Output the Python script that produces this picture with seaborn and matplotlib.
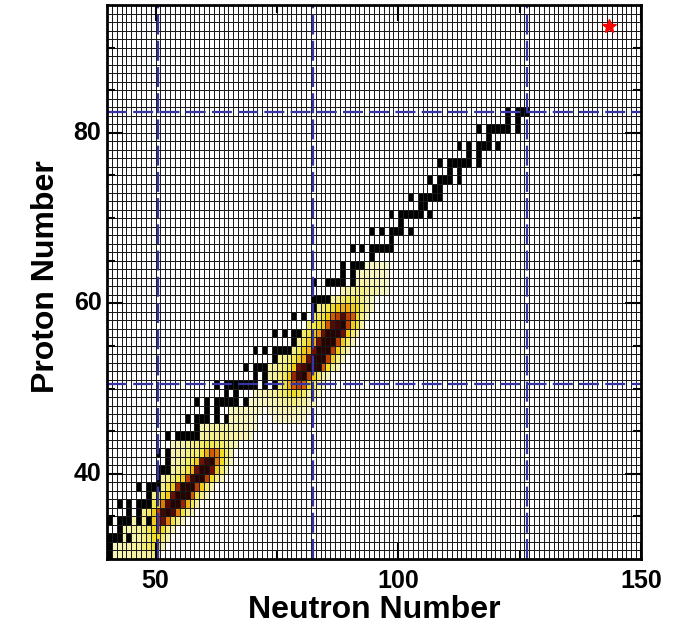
import numpy as np
import pandas as pd
import matplotlib
matplotlib.use("Agg")
import matplotlib.pyplot as plt
import seaborn as sns
from matplotlib.colors import LinearSegmentedColormap, ListedColormap

# ---------------- data ----------------
N_MIN, N_MAX = 40, 150      # neutron-number cells 40..149
Z_MIN, Z_MAX = 30, 95       # proton-number cells 30..94

X_TICKS = [50, 100, 150]
X_MINOR = [75, 125]
Y_TICKS = [40, 60, 80]
Y_MINOR = [35, 45, 50, 55, 65, 70, 75, 85, 90]

MAGIC_N = [50, 82, 126]
MAGIC_Z = [50, 82]

STAR_N, STAR_Z = 143, 92

# stable nuclei: proton number and list of neutron numbers
STABLE_Z = [30, 31, 32, 33, 34, 35, 36, 37, 38, 39, 40, 41, 42, 44, 45, 46, 47, 48,
            49, 50, 51, 52, 53, 54, 55, 56, 57, 58, 59, 60, 62, 63, 64, 65, 66, 67,
            68, 69, 70, 71, 72, 73, 74, 75, 76, 77, 78, 79, 80, 81, 82]
STABLE_N = [[40], [40], [40, 41, 42, 44], [42], [40, 42, 43, 44, 46, 48], [44, 46],
            [42, 44, 46, 47, 48, 50], [48, 50], [46, 48, 49, 50], [50],
            [50, 51, 52, 54, 56], [52], [50, 52, 53, 54, 55, 56, 58],
            [52, 54, 55, 56, 57, 58, 60], [58], [56, 58, 59, 60, 62, 64], [60, 62],
            [58, 60, 62, 63, 64, 65, 66, 68], [64, 66],
            [62, 64, 65, 66, 67, 68, 69, 70, 72, 74], [70, 72],
            [68, 70, 71, 72, 73, 74, 76, 78], [74],
            [70, 72, 74, 75, 76, 77, 78, 80, 82], [78], [74, 76, 78, 79, 80, 81, 82],
            [81, 82], [78, 80, 82, 84], [82], [82, 83, 84, 85, 86, 88, 90],
            [82, 85, 86, 87, 88, 90, 92], [88, 90], [88, 90, 91, 92, 93, 94, 96], [94],
            [90, 92, 94, 95, 96, 97, 98], [98], [94, 96, 98, 99, 100, 102], [100],
            [98, 100, 101, 102, 103, 104, 106], [104, 105],
            [102, 104, 105, 106, 107, 108], [107, 108], [106, 108, 109, 110, 112],
            [110, 112], [108, 110, 111, 112, 113, 114, 116], [114, 116],
            [112, 114, 116, 117, 118, 120], [118], [116, 118, 119, 120, 121, 122, 124],
            [122, 124], [122, 124, 125, 126]]

# abundance map, first peak: row Z, first N, relative intensity per cell
PEAK1_Z = [30, 31, 32, 33, 34, 35, 36, 37, 38, 39, 40, 41, 42, 43, 44, 45, 46, 47, 48]
PEAK1_N0 = [41, 41, 43, 43, 45, 47, 49, 49, 51, 51, 53, 53, 53, 53, 59, 59, 65, 65, 69]
PEAK1_VALS = [
    [0.10, 0.12, 0.12, 0.14, 0.15, 0.15, 0.16, 0.18, 0.22, 0.15],
    [0.10, 0.12, 0.14, 0.15, 0.16, 0.18, 0.22, 0.28, 0.35, 0.30, 0.12],
    [0.12, 0.00, 0.14, 0.16, 0.20, 0.25, 0.38, 0.42, 0.25, 0.12],
    [0.12, 0.14, 0.16, 0.18, 0.22, 0.30, 0.42, 0.55, 0.42, 0.20, 0.10],
    [0.14, 0.00, 0.20, 0.00, 0.45, 0.72, 0.80, 0.60, 0.35, 0.18, 0.10],
    [0.20, 0.28, 0.45, 0.70, 0.90, 0.95, 0.85, 0.60, 0.35, 0.18, 0.10],
    [0.30, 0.40, 0.60, 0.85, 0.95, 0.95, 0.75, 0.50, 0.30, 0.15],
    [0.20, 0.30, 0.35, 0.45, 0.80, 0.95, 0.95, 0.95, 0.65, 0.35, 0.20, 0.10],
    [0.20, 0.30, 0.45, 0.75, 0.95, 0.95, 0.95, 0.70, 0.45, 0.25, 0.12],
    [0.15, 0.20, 0.25, 0.30, 0.45, 0.70, 0.90, 0.95, 0.95, 0.70, 0.40, 0.20, 0.10],
    [0.15, 0.20, 0.25, 0.35, 0.50, 0.80, 0.95, 0.95, 0.80, 0.45, 0.25, 0.12],
    [0.12, 0.15, 0.20, 0.25, 0.30, 0.45, 0.80, 0.90, 0.95, 0.60, 0.40, 0.20, 0.10],
    [0.12, 0.15, 0.15, 0.20, 0.25, 0.25, 0.35, 0.50, 0.65, 0.60, 0.40, 0.25, 0.15],
    [0.10, 0.12, 0.15, 0.18, 0.20, 0.22, 0.25, 0.30, 0.30, 0.28, 0.25, 0.20, 0.15, 0.10],
    [0.15, 0.18, 0.20, 0.20, 0.20, 0.18, 0.16, 0.14, 0.12, 0.10, 0.08],
    [0.12, 0.14, 0.15, 0.16, 0.15, 0.14, 0.12, 0.10, 0.10, 0.08, 0.08, 0.06],
    [0.10, 0.10, 0.10, 0.08, 0.08, 0.06],
    [0.08, 0.10, 0.10, 0.08, 0.08, 0.06, 0.05],
    [0.06, 0.07, 0.06],
]

# abundance map, second peak
PEAK2_Z = [46, 47, 48, 49, 50, 51, 52, 53, 54, 55, 56, 57, 58, 59, 60, 61, 62, 63, 64]
PEAK2_N0 = [74, 73, 71, 70, 75, 73, 73, 75, 78, 79, 80, 81, 82, 83, 86, 88, 91, 91, 93]
PEAK2_VALS = [
    [0.06, 0.07, 0.08, 0.08, 0.08, 0.07, 0.06],
    [0.06, 0.08, 0.10, 0.12, 0.12, 0.12, 0.10, 0.08, 0.06],
    [0.06, 0.08, 0.10, 0.12, 0.15, 0.18, 0.20, 0.22, 0.20, 0.15, 0.10, 0.08],
    [0.08, 0.10, 0.12, 0.15, 0.18, 0.22, 0.28, 0.35, 0.40, 0.35, 0.25, 0.15, 0.10, 0.08],
    [0.20, 0.35, 0.50, 0.65, 0.70, 0.65, 0.40, 0.25, 0.15, 0.10],
    [0.15, 0.18, 0.22, 0.30, 0.45, 0.75, 0.90, 0.95, 0.70, 0.45, 0.25, 0.15, 0.08],
    [0.15, 0.18, 0.20, 0.25, 0.30, 0.45, 0.80, 0.88, 0.95, 0.95, 0.95, 0.65, 0.40, 0.20, 0.10],
    [0.18, 0.20, 0.25, 0.30, 0.45, 0.50, 0.80, 0.95, 0.95, 0.95, 0.70, 0.45, 0.20, 0.10],
    [0.20, 0.30, 0.45, 0.50, 0.80, 0.95, 0.95, 0.95, 0.70, 0.45, 0.25, 0.12],
    [0.20, 0.30, 0.45, 0.50, 0.80, 0.95, 0.95, 0.95, 0.70, 0.45, 0.25, 0.12],
    [0.25, 0.35, 0.45, 0.55, 0.80, 0.95, 0.95, 0.95, 0.80, 0.45, 0.25, 0.12],
    [0.25, 0.30, 0.40, 0.45, 0.65, 0.85, 0.90, 0.95, 0.70, 0.45, 0.35, 0.15],
    [0.25, 0.30, 0.35, 0.45, 0.65, 0.70, 0.85, 0.70, 0.65, 0.40, 0.20, 0.10],
    [0.20, 0.25, 0.30, 0.40, 0.45, 0.50, 0.50, 0.45, 0.40, 0.25, 0.15, 0.08],
    [0.15, 0.20, 0.28, 0.30, 0.30, 0.28, 0.20, 0.12, 0.08],
    [0.12, 0.15, 0.18, 0.20, 0.20, 0.18, 0.15, 0.12, 0.08, 0.06],
    [0.12, 0.14, 0.14, 0.12, 0.10, 0.08, 0.06],
    [0.08, 0.10, 0.10, 0.10, 0.08, 0.08, 0.06],
    [0.06, 0.08, 0.08, 0.07, 0.06],
]

# ---------------- build tables ----------------
n_cols = np.arange(N_MIN, N_MAX)
z_rows = np.arange(Z_MIN, Z_MAX)

heat = pd.DataFrame(0.0, index=z_rows, columns=n_cols)
for zs, n0s, vals in ((PEAK1_Z, PEAK1_N0, PEAK1_VALS), (PEAK2_Z, PEAK2_N0, PEAK2_VALS)):
    for z, n0, row in zip(zs, n0s, vals):
        for k, v in enumerate(row):
            n = n0 + k
            heat.loc[z, n] = max(heat.loc[z, n], v)

stable = pd.DataFrame(0.0, index=z_rows, columns=n_cols)
for z, ns in zip(STABLE_Z, STABLE_N):
    for n in ns:
        stable.loc[z, n] = 1.0

base = pd.DataFrame(0.0, index=z_rows, columns=n_cols)

# ---------------- plot ----------------
plt.rcParams['font.family'] = ['Liberation Sans', 'DejaVu Sans']

fig = plt.figure(figsize=(6.83, 6.27), dpi=100)
ax = fig.add_axes([107 / 683, 1 - 559 / 627, (641 - 107) / 683, (559 - 5) / 627])

grid_kw = dict(linewidths=0.5, linecolor='#1a1a1a', cbar=False, ax=ax)

sns.heatmap(base, cmap=ListedColormap(['white']), vmin=0, vmax=1, **grid_kw)
sns.heatmap(stable, mask=stable.values == 0, cmap=ListedColormap(['black']),
            vmin=0, vmax=1, **grid_kw)

heat_cmap = LinearSegmentedColormap.from_list('abund', [
    (0.00, (0.99, 0.99, 0.88)),
    (0.08, (0.97, 0.96, 0.76)),
    (0.18, (0.96, 0.94, 0.58)),
    (0.30, (0.95, 0.91, 0.30)),
    (0.42, (0.94, 0.86, 0.10)),
    (0.55, (0.93, 0.58, 0.04)),
    (0.68, (0.80, 0.30, 0.00)),
    (0.80, (0.45, 0.05, 0.00)),
    (1.00, (0.06, 0.00, 0.00)),
])
sns.heatmap(heat, mask=heat.values == 0, cmap=heat_cmap, vmin=0, vmax=1, **grid_kw)

ax.set_xlim(0, N_MAX - N_MIN)
ax.set_ylim(0, Z_MAX - Z_MIN)

# magic-number lines
for n in MAGIC_N:
    ax.axvline(n + 0.5 - N_MIN, color='#3535a5', lw=1.6, dashes=(9, 2.8), zorder=5)
for z in MAGIC_Z:
    ax.axhline(z + 0.5 - Z_MIN, color='#3535a5', lw=1.6, dashes=(9, 2.8), zorder=5)

# marker
ax.plot([STAR_N + 0.5 - N_MIN], [STAR_Z + 0.5 - Z_MIN], marker='*', color='red',
        ms=10, mec='red', ls='none', zorder=6)

# ticks
ax.set_xticks([t - N_MIN for t in X_TICKS])
ax.set_xticklabels([str(t) for t in X_TICKS], rotation=0)
ax.set_xticks([t - N_MIN for t in X_MINOR], minor=True)
ax.set_yticks([t - Z_MIN for t in Y_TICKS])
ax.set_yticklabels([str(t) for t in Y_TICKS], rotation=0)
ax.set_yticks([t - Z_MIN for t in Y_MINOR], minor=True)
ax.tick_params(which='both', direction='in', top=True, right=True, width=1.5,
               color='black')
ax.tick_params(which='major', length=11.5, labelsize=18)
ax.tick_params(which='minor', length=6)
ax.tick_params(axis='x', which='major', pad=7)
ax.tick_params(axis='y', which='major', pad=4)
for lab in ax.get_xticklabels() + ax.get_yticklabels():
    lab.set_fontweight('bold')

for sp in ax.spines.values():
    sp.set_visible(True)
    sp.set_linewidth(2)
    sp.set_color('black')
    sp.set_zorder(7)

ax.set_xlabel('')
ax.set_ylabel('')
fig.text(374 / 683, 1 - 618 / 627, 'Neutron Number', ha='center', va='baseline',
         fontsize=23, fontweight='bold')
fig.text(54 / 683, 1 - 277 / 627, 'Proton Number', ha='center', va='baseline',
         rotation=90, rotation_mode='anchor', fontsize=23, fontweight='bold')

fig.savefig('out.png', dpi=100)
